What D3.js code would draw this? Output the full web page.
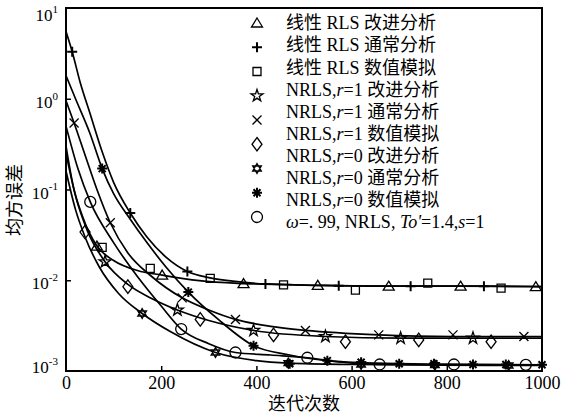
<!DOCTYPE html>
<html>
<head>
<meta charset="utf-8">
<script src="https://cdn.jsdelivr.net/npm/d3@7"></script>
<style>
  body { margin: 0; background: #fff; }
  svg { display: block; }
</style>
</head>
<body>
<div id="chart"></div>
<script>
// axis values
const iterTicks = [0, 200, 400, 600, 800, 1000];
const decades = [1e-3, 1e-2, 1e-1, 1, 10];

// legend
const legendLabels = [
  "线性 RLS 改进分析",
  "线性 RLS 通常分析",
  "线性 RLS 数值模拟",
  "NRLS,<i>r</i>=1 改进分析",
  "NRLS,<i>r</i>=1 通常分析",
  "NRLS,<i>r</i>=1 数值模拟",
  "NRLS,<i>r</i>=0 改进分析",
  "NRLS,<i>r</i>=0 通常分析",
  "NRLS,<i>r</i>=0 数值模拟",
  "<i>ω</i>=. 99, NRLS, <i>To'</i>=1.4,<i>s</i>=1"
];
const legendShapes = ["tri", "plus", "square", "star5", "cross", "diamond", "star6", "aster", "circle"];

// [iteration, mse]
const linImprLine = [[0,0.3],[15,0.11],[35,0.05],[65,0.0238],[100,0.0165],[150,0.0128],[202,0.0114],[280,0.0099],[373,0.0092],[529,0.0088],[678,0.0086],[829,0.0086],[1000,0.0085]];
const linImprMarks = [[65,0.0238],[202,0.0114],[373,0.0092],[529,0.0088],[678,0.0086],[829,0.0086],[987,0.0085]];

const linUsualLine = [[0,5.5],[13,3.3],[30,1.5],[50,0.7],[76,0.26],[100,0.12],[135,0.055],[170,0.03],[210,0.018],[255,0.0125],[300,0.0107],[350,0.0098],[419,0.0091],[573,0.0087],[724,0.0086],[878,0.0086],[1000,0.0085]];
const linUsualMarks = [[13,3.3],[135,0.055],[255,0.0125],[419,0.0091],[573,0.0087],[724,0.0086],[878,0.0086]];

const linSimMarks = [[76,0.023],[177,0.0135],[303,0.0105],[457,0.0089],[608,0.0078],[760,0.0093],[914,0.0082]];

const r1ImprLine = [[0,0.25],[20,0.085],[45,0.035],[82,0.016],[130,0.009],[180,0.0063],[234,0.0047],[300,0.0036],[394,0.0028],[545,0.0024],[703,0.0023],[855,0.0023],[1000,0.0023]];
const r1ImprMarks = [[82,0.016],[234,0.0047],[394,0.0028],[545,0.0024],[703,0.0023],[855,0.0023]];

const r1UsualLine = [[0,0.95],[17,0.54],[40,0.24],[65,0.1],[93,0.043],[130,0.02],[180,0.011],[244,0.0064],[300,0.0047],[356,0.0037],[430,0.0031],[503,0.0028],[657,0.0025],[813,0.0024],[1000,0.0024]];
const r1UsualMarks = [[17,0.54],[93,0.043],[244,0.0064],[356,0.0037],[503,0.0028],[657,0.0025],[813,0.0025],[962,0.0024]];

const r1SimMarks = [[40,0.034],[130,0.0085],[282,0.0037],[436,0.0025],[587,0.0021],[741,0.0022],[893,0.0021]];

const r0ImprLine = [[0,0.16],[20,0.06],[40,0.03],[70,0.014],[110,0.0072],[160,0.0043],[220,0.0027],[314,0.0016],[400,0.0013],[467,0.00122],[600,0.00118],[800,0.00116],[1000,0.00115]];
const r0ImprMarks = [[160,0.0043],[314,0.0016],[467,0.00122],[620,0.00118],[775,0.00116],[930,0.00115]];

const r0UsualLine = [[0,1.8],[20,1.0],[50,0.42],[76,0.17],[100,0.09],[135,0.047],[170,0.026],[210,0.014],[257,0.0074],[320,0.0037],[394,0.0019],[470,0.0015],[549,0.0013],[650,0.00122],[800,0.00119],[1000,0.00117]];
const r0UsualMarks = [[76,0.17],[257,0.0074],[394,0.0019],[549,0.0013],[700,0.0012],[855,0.00118],[1000,0.00117]];

const r0SimMarks = [[470,0.0012],[620,0.00125],[773,0.0012],[924,0.00118]];

const omegaLine = [[0,0.5],[25,0.17],[51,0.073],[100,0.026],[150,0.011],[200,0.0052],[242,0.0029],[300,0.002],[356,0.0016],[430,0.0015],[507,0.0014],[580,0.00125],[659,0.00118],[815,0.00117],[1000,0.00116]];
const omegaMarks = [[51,0.073],[242,0.0029],[356,0.0016],[507,0.0014],[659,0.00118],[815,0.00118],[966,0.00117]];

const series = [
  {line: linImprLine,  marks: linImprMarks,  shape: "tri"},
  {line: linUsualLine, marks: linUsualMarks, shape: "plus"},
  {line: null,         marks: linSimMarks,   shape: "square"},
  {line: r1ImprLine,   marks: r1ImprMarks,   shape: "star5"},
  {line: r1UsualLine,  marks: r1UsualMarks,  shape: "cross"},
  {line: null,         marks: r1SimMarks,    shape: "diamond"},
  {line: r0ImprLine,   marks: r0ImprMarks,   shape: "star6"},
  {line: r0UsualLine,  marks: r0UsualMarks,  shape: "aster"},
  {line: null,         marks: r0SimMarks,    shape: "aster"},
  {line: omegaLine,    marks: omegaMarks,    shape: "circle"}
];

const width = 565, height = 419;
const plot = {left: 66, right: 542, top: 8, bottom: 371};
const serif = "'Liberation Serif', 'Times New Roman', 'Noto Sans CJK SC', serif";

const x = d3.scaleLinear().domain([0, 1000]).range([plot.left, plot.right]);
const y = d3.scaleLog().domain([1e-3, 10]).range([plot.bottom, plot.top]);

// marker outlines
const shapes = {
  tri: s => `M0,${-s}L${s * 1.1},${s * 0.8}L${-s * 1.1},${s * 0.8}Z`,
  plus: s => `M${-s},0H${s}M0,${-s}V${s}`,
  square: s => `M${-s},${-s}H${s}V${s}H${-s}Z`,
  star5: s => d3.symbol(d3.symbolStar, s * s * 2.2)(),
  cross: s => `M${-s},${-s}L${s},${s}M${-s},${s}L${s},${-s}`,
  diamond: s => `M0,${-s * 1.35}L${s},0L0,${s * 1.35}L${-s},0Z`,
  star6: s => `M0,${-s}L${s * 0.87},${s * 0.5}L${-s * 0.87},${s * 0.5}Z M0,${s}L${s * 0.87},${-s * 0.5}L${-s * 0.87},${-s * 0.5}Z`,
  aster: s => `M${-s},0H${s}M0,${-s}V${s}M${-s * 0.7},${-s * 0.7}L${s * 0.7},${s * 0.7}M${-s * 0.7},${s * 0.7}L${s * 0.7},${-s * 0.7}`,
  circle: s => `M${s},0A${s},${s} 0 1,1 ${-s},0A${s},${s} 0 1,1 ${s},0Z`
};
const shapeSize = {tri: 5, plus: 5, square: 4, star5: 4.5, cross: 4.5, diamond: 5, star6: 5, aster: 5, circle: 5.5};

const svg = d3.select("#chart").append("svg")
    .attr("width", width)
    .attr("height", height)
    .attr("viewBox", [0, 0, width, height]);

svg.append("rect")
    .attr("width", width).attr("height", height).attr("fill", "#fff");

// x axis
const xAxis = svg.append("g")
    .attr("transform", `translate(0,${plot.bottom})`)
    .call(d3.axisBottom(x).tickValues(iterTicks).tickSize(-5).tickPadding(5).tickFormat(d3.format("d")));
xAxis.select(".domain").remove();
xAxis.selectAll(".tick line").attr("stroke", "#000").attr("stroke-width", 1.5)
    .filter(d => d === 0 || d === 1000).remove();
xAxis.selectAll(".tick text")
    .attr("font-family", serif).attr("font-size", 18).attr("fill", "#000");

// y axis
const yAxis = svg.append("g")
    .attr("transform", `translate(${plot.left},0)`)
    .call(d3.axisLeft(y).tickValues(decades).tickSize(-5).tickPadding(7).tickFormat(() => ""));
yAxis.select(".domain").remove();
yAxis.selectAll(".tick line").attr("stroke", "#000").attr("stroke-width", 1.5)
    .filter(d => d === 10 || d === 1e-3).remove();
yAxis.selectAll(".tick text")
    .attr("font-family", serif).attr("font-size", 17).attr("fill", "#000")
    .attr("dy", d => d === 10 ? "0.75em" : d === 1e-3 ? "0.1em" : "0.5em")
    .attr("x", -8)
    .each(function(d) {
      const t = d3.select(this);
      t.append("tspan").text("10");
      t.append("tspan").attr("font-size", 11).attr("dy", "-0.75em").text(Math.round(Math.log10(d)));
    });

// frame
svg.append("rect")
    .attr("x", plot.left).attr("y", plot.top)
    .attr("width", plot.right - plot.left).attr("height", plot.bottom - plot.top)
    .attr("fill", "none").attr("stroke", "#000").attr("stroke-width", 2);

// curves
const line = d3.line()
    .x(d => x(d[0]))
    .y(d => y(d[1]))
    .curve(d3.curveMonotoneX);

svg.append("g")
    .attr("fill", "none")
    .attr("stroke", "#000")
    .attr("stroke-width", 1.7)
  .selectAll("path")
  .data(series.filter(s => s.line))
  .join("path")
    .attr("d", s => line(s.line));

// markers
svg.append("g")
    .attr("fill", "none")
    .attr("stroke", "#000")
    .attr("stroke-width", 1.3)
  .selectAll("g")
  .data(series)
  .join("g")
  .selectAll("path")
  .data(s => s.marks.map(m => ({m, shape: s.shape})))
  .join("path")
    .attr("transform", d => `translate(${x(d.m[0])},${y(d.m[1])})`)
    .attr("d", d => shapes[d.shape](shapeSize[d.shape]))
    .attr("stroke-width", d => d.shape === "aster" || d.shape === "plus" ? 2 : 1.3);

// legend
const legend = svg.append("g");
legend.selectAll("path")
  .data(legendShapes)
  .join("path")
    .attr("transform", (d, i) => `translate(257,${23 + i * 24.25})`)
    .attr("d", d => shapes[d](shapeSize[d]))
    .attr("fill", "none")
    .attr("stroke", "#000")
    .attr("stroke-width", d => d === "aster" || d === "plus" ? 2 : 1.3);

legend.selectAll("text")
  .data(legendLabels)
  .join("text")
    .attr("x", 286)
    .attr("y", (d, i) => 23 + i * 22.1)
    .attr("dy", "0.35em")
    .attr("font-family", serif)
    .attr("font-size", 18)
    .attr("fill", "#000")
    .each(function(d) {
      const t = d3.select(this);
      d.split(/(<i>.*?<\/i>)/).filter(p => p).forEach(p => {
        const it = p.startsWith("<i>");
        t.append("tspan")
            .attr("font-style", it ? "italic" : null)
            .text(it ? p.slice(3, -4) : p);
      });
    });

// axis titles
svg.append("text")
    .attr("x", 304).attr("y", 404)
    .attr("dy", "0.35em")
    .attr("text-anchor", "middle")
    .attr("font-family", serif).attr("font-size", 18)
    .text("迭代次数");

svg.append("text")
    .attr("transform", "translate(15,200) rotate(-90)")
    .attr("dy", "0.35em")
    .attr("text-anchor", "middle")
    .attr("font-family", serif).attr("font-size", 18)
    .text("均方误差");
</script>
</body>
</html>
